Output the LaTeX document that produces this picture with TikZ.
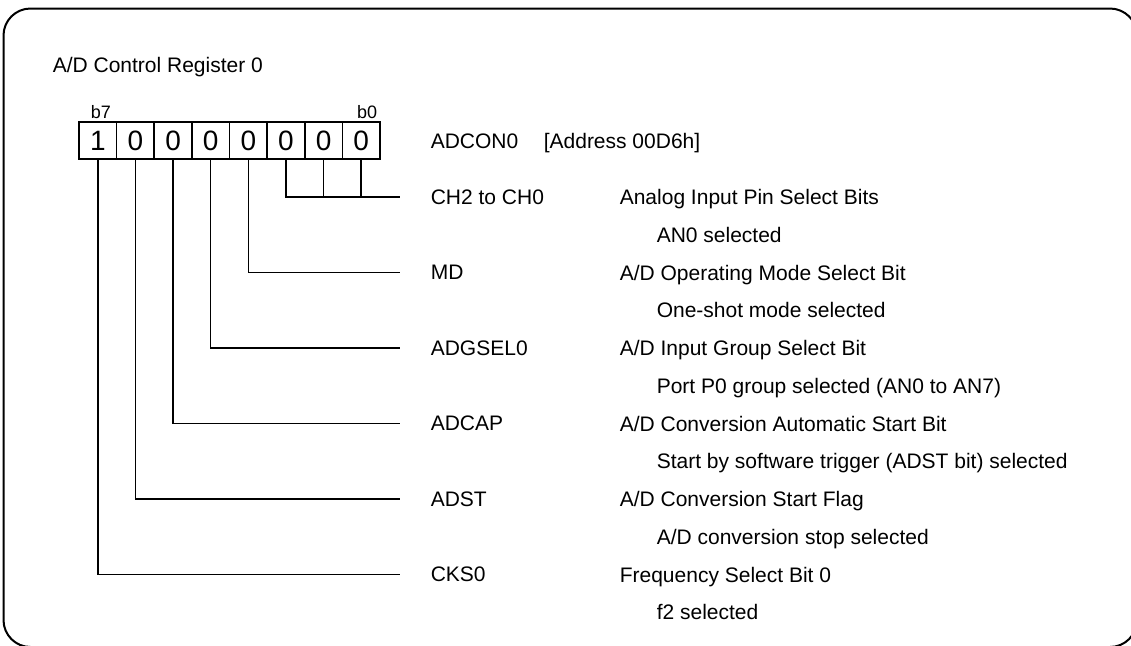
\documentclass[tikz,border=0pt]{standalone}
\usepackage{fontspec}
\setmainfont{Liberation Sans}
\begin{document}
\begin{tikzpicture}[x=0.5pt,y=-0.5pt,line width=0.8pt,font=\fontsize{10.5}{12.6}\selectfont,
  txt/.style={anchor=base west,inner sep=0pt},
  bitcell/.style={draw,minimum width=18.8pt,minimum height=18.5pt,inner sep=0pt,font=\fontsize{14}{16}\selectfont},
  bitno/.style={inner sep=0pt,font=\fontsize{9}{10.8}\selectfont},
  fld/.style={anchor=west,inner ysep=0pt,inner xsep=15pt}]
\useasboundingbox (0,0) rectangle (1131,645);
\draw[line width=1pt,rounded corners=13.5pt] (3.5,8.5) rectangle (1137,647);
\node[txt] (title) at (52,72) {A/D Control Register 0};
\foreach \i/\v in {7/1,6/0,5/0,4/0,3/0,2/0,1/0,0/0}{\node[bitcell] (c\i) at ({97.8+37.625*(7-\i)},140.5) {\v};}
\node[bitno,anchor=base west] (b7) at (90,118) {b7};
\node[bitno,anchor=base east] (b0) at (378,118) {b0};
\node[txt] (reg) at (430,148) {ADCON0};
\node[txt] (addr) at (543,148) {[Address 00D6h]};
\foreach \k/\b/\nm/\ds/\st in {0/2/CH2 to CH0/{Analog Input Pin Select Bits}/{AN0 selected},
  1/3/MD/{A/D Operating Mode Select Bit}/{One-shot mode selected},
  2/4/ADGSEL0/{A/D Input Group Select Bit}/{Port P0 group selected (AN0 to AN7)},
  3/5/ADCAP/{A/D Conversion Automatic Start Bit}/{Start by software trigger (ADST bit) selected},
  4/6/ADST/{A/D Conversion Start Flag}/{A/D conversion stop selected},
  5/7/CKS0/{Frequency Select Bit 0}/{f2 selected}}{
  \node[fld] (f\b) at (400,{197+75.5*\k}) {\nm};
  \node[txt] (d\b) at (619,{204.6+75.5*\k}) {\ds};
  \node[txt] (s\b) at (656,{242.3+75.5*\k}) {\st};
  \draw (c\b.south) |- (f\b.west);
}
\draw (c1.south) -- (c1.south |- f2.west);
\draw (c0.south) -- (c0.south |- f2.west);
\end{tikzpicture}
\end{document}
